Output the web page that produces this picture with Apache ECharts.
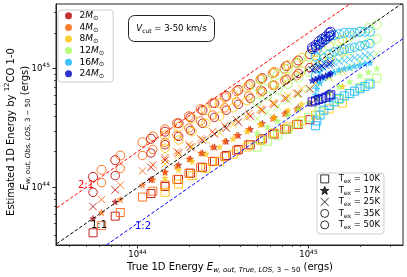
<!DOCTYPE html>
<html>
<head>
<meta charset="utf-8">
<script src="https://cdn.jsdelivr.net/npm/echarts@6.0.0/dist/echarts.min.js"></script>
<style>
html,body{margin:0;padding:0;background:#ffffff;}
#chart{width:407px;height:277px;}
</style>
</head>
<body>
<div id="chart"></div>
<script>
// ---------------- data ----------------
const massLabels = ['2', '4', '8', '12', '16', '24'];
const texLabels = ['10K', '17K', '25K', '35K', '50K'];
const xTickValues = [1e44, 1e45];
const yTickValues = [1e44, 1e45];
const xMinorTicks = [4e43, 5e43, 6e43, 7e43, 8e43, 9e43, 2e44, 3e44, 4e44, 5e44, 6e44, 7e44, 8e44, 9e44, 2e45, 3e45];
const yMinorTicks = [4e43, 5e43, 6e43, 7e43, 8e43, 9e43, 2e44, 3e44, 4e44, 5e44, 6e44, 7e44, 8e44, 9e44, 2e45, 3e45];
const refX = [1e43, 1e46];
const ref1to1 = [1e43, 1e46];
const ref2to1 = [2e43, 2e46];
const ref1to2 = [5e42, 5e45];

// 2 Msun
const x2M = [5.50e43, 7.41e43, 1.20e44, 1.45e44, 1.74e44, 2.04e44, 2.40e44, 2.82e44, 3.31e44, 3.89e44, 4.57e44, 5.37e44, 6.31e44, 7.41e44, 8.71e44, 1.02e45];
const y2M_10K = [4.17e43, 5.75e43, 8.91e43, 1.02e44, 1.17e44, 1.32e44, 1.48e44, 1.66e44, 1.86e44, 2.09e44, 2.29e44, 2.57e44, 2.82e44, 3.09e44, 3.39e44, 3.72e44];
const y2M_17K = [5.50e43, 7.59e43, 1.17e44, 1.35e44, 1.55e44, 1.74e44, 1.95e44, 2.19e44, 2.45e44, 2.75e44, 3.09e44, 3.47e44, 3.89e44, 4.27e44, 4.68e44, 5.13e44];
const y2M_25K = [6.92e43, 9.55e43, 1.48e44, 1.70e44, 1.95e44, 2.19e44, 2.51e44, 2.82e44, 3.16e44, 3.55e44, 3.98e44, 4.47e44, 5.01e44, 5.62e44, 6.17e44, 6.76e44];
const y2M_35K = [9.12e43, 1.26e44, 1.95e44, 2.29e44, 2.69e44, 3.02e44, 3.47e44, 3.89e44, 4.47e44, 5.01e44, 5.62e44, 6.46e44, 7.24e44, 8.13e44, 9.12e44, 1.02e45];
const y2M_50K = [1.23e44, 1.70e44, 2.57e44, 2.95e44, 3.47e44, 3.89e44, 4.47e44, 5.13e44, 5.89e44, 6.61e44, 7.41e44, 8.32e44, 9.33e44, 1.05e45, 1.17e45, 1.32e45];

// 4 Msun
const x4M = [6.17e43, 7.94e43, 1.07e44, 1.23e44, 1.45e44, 1.70e44, 2.00e44, 2.34e44, 2.75e44, 3.24e44, 3.80e44, 4.47e44, 5.25e44, 6.17e44, 7.24e44, 8.51e44];
const y4M_10K = [4.79e43, 6.17e43, 8.32e43, 9.33e43, 1.05e44, 1.17e44, 1.32e44, 1.48e44, 1.66e44, 1.82e44, 2.04e44, 2.29e44, 2.51e44, 2.82e44, 3.09e44, 3.39e44];
const y4M_17K = [6.17e43, 7.94e43, 1.05e44, 1.17e44, 1.35e44, 1.51e44, 1.74e44, 1.95e44, 2.19e44, 2.45e44, 2.75e44, 3.09e44, 3.39e44, 3.80e44, 4.17e44, 4.57e44];
const y4M_25K = [7.94e43, 1.05e44, 1.38e44, 1.55e44, 1.78e44, 2.00e44, 2.29e44, 2.57e44, 2.95e44, 3.31e44, 3.72e44, 4.17e44, 4.57e44, 5.13e44, 5.62e44, 6.17e44];
const y4M_35K = [1.10e44, 1.45e44, 1.86e44, 2.09e44, 2.40e44, 2.75e44, 3.16e44, 3.63e44, 4.07e44, 4.68e44, 5.25e44, 5.89e44, 6.61e44, 7.24e44, 7.94e44, 8.71e44];
const y4M_50K = [1.41e44, 1.86e44, 2.40e44, 2.69e44, 3.09e44, 3.47e44, 3.98e44, 4.57e44, 5.13e44, 5.75e44, 6.46e44, 7.24e44, 8.13e44, 9.12e44, 1.00e45, 1.12e45];

// 8 Msun
const x8M = [1.45e44, 1.74e44, 2.09e44, 2.51e44, 3.02e44, 3.63e44, 4.37e44, 5.25e44, 6.31e44, 7.59e44, 9.12e44, 1.10e45, 1.32e45, 1.58e45];
const y8M_10K = [9.12e43, 1.07e44, 1.26e44, 1.45e44, 1.66e44, 1.91e44, 2.19e44, 2.51e44, 2.88e44, 3.24e44, 3.63e44, 4.07e44, 4.57e44, 5.13e44];
const y8M_17K = [1.20e44, 1.41e44, 1.66e44, 1.91e44, 2.19e44, 2.57e44, 2.95e44, 3.39e44, 3.89e44, 4.47e44, 5.01e44, 5.62e44, 6.31e44, 7.08e44];
const y8M_25K = [1.58e44, 1.86e44, 2.19e44, 2.51e44, 2.88e44, 3.39e44, 3.89e44, 4.47e44, 5.13e44, 5.89e44, 6.76e44, 7.59e44, 8.51e44, 9.55e44];
const y8M_35K = [2.14e44, 2.51e44, 2.95e44, 3.47e44, 3.98e44, 4.68e44, 5.37e44, 6.31e44, 7.24e44, 8.32e44, 9.55e44, 1.10e45, 1.23e45, 1.38e45];
const y8M_50K = [2.75e44, 3.24e44, 3.80e44, 4.47e44, 5.13e44, 6.03e44, 6.92e44, 8.13e44, 9.33e44, 1.07e45, 1.23e45, 1.38e45, 1.55e45, 1.74e45];

// 12 Msun
const x12M = [5.01e44, 5.75e44, 6.61e44, 7.59e44, 8.71e44, 1.00e45, 1.15e45, 1.32e45, 1.51e45, 1.74e45, 2.00e45, 2.24e45, 2.51e45];
const y12M_10K = [2.19e44, 2.45e44, 2.75e44, 3.09e44, 3.47e44, 3.89e44, 4.37e44, 4.90e44, 5.50e44, 6.17e44, 6.92e44, 7.59e44, 8.32e44];
const y12M_17K = [2.88e44, 3.24e44, 3.63e44, 4.07e44, 4.57e44, 5.13e44, 5.62e44, 6.31e44, 7.08e44, 7.76e44, 8.71e44, 9.33e44, 1.00e45];
const y12M_25K = [3.80e44, 4.27e44, 4.79e44, 5.37e44, 6.03e44, 6.76e44, 7.59e44, 8.32e44, 9.33e44, 1.02e45, 1.15e45, 1.23e45, 1.32e45];
const y12M_35K = [5.25e44, 5.89e44, 6.61e44, 7.41e44, 8.32e44, 9.33e44, 1.02e45, 1.15e45, 1.26e45, 1.41e45, 1.55e45, 1.66e45, 1.78e45];
const y12M_50K = [7.08e44, 7.94e44, 8.91e44, 1.00e45, 1.12e45, 1.26e45, 1.38e45, 1.55e45, 1.70e45, 1.86e45, 2.04e45, 2.19e45, 2.34e45];

// 16 Msun
const x16M = [1.10e45, 1.12e45, 1.17e45, 1.23e45, 1.32e45, 1.41e45, 1.51e45, 1.62e45, 1.74e45, 1.86e45, 2.00e45, 2.14e45, 2.29e45];
const y16M_10K = [3.31e44, 3.63e44, 4.07e44, 4.47e44, 4.90e44, 5.25e44, 5.62e44, 5.89e44, 6.17e44, 6.46e44, 6.76e44, 7.08e44, 7.41e44];
const y16M_17K = [6.03e44, 6.76e44, 7.59e44, 8.32e44, 8.91e44, 9.33e44, 9.77e44, 1.00e45, 1.02e45, 1.05e45, 1.07e45, 1.10e45, 1.12e45];
const y16M_25K = [7.24e44, 8.13e44, 9.12e44, 1.00e45, 1.07e45, 1.12e45, 1.15e45, 1.17e45, 1.20e45, 1.23e45, 1.26e45, 1.29e45, 1.32e45];
const y16M_35K = [8.71e44, 1.00e45, 1.12e45, 1.23e45, 1.32e45, 1.38e45, 1.41e45, 1.45e45, 1.48e45, 1.51e45, 1.55e45, 1.58e45, 1.62e45];
const y16M_50K = [1.26e45, 1.45e45, 1.62e45, 1.74e45, 1.86e45, 1.91e45, 1.95e45, 2.00e45, 2.00e45, 2.00e45, 2.04e45, 2.04e45, 2.04e45];

// 24 Msun
const x24M = [1.05e45, 1.10e45, 1.15e45, 1.20e45, 1.26e45, 1.32e45, 1.35e45];
const y24M_10K = [5.25e44, 5.37e44, 5.50e44, 5.62e44, 5.75e44, 5.89e44, 6.03e44];
const y24M_17K = [7.94e44, 8.13e44, 8.32e44, 8.51e44, 8.71e44, 8.91e44, 9.12e44];
const y24M_25K = [9.77e44, 1.00e45, 1.02e45, 1.05e45, 1.07e45, 1.10e45, 1.12e45];
const y24M_35K = [1.45e45, 1.51e45, 1.58e45, 1.66e45, 1.74e45, 1.86e45, 1.91e45];
const y24M_50K = [1.51e45, 1.58e45, 1.70e45, 1.78e45, 1.86e45, 2.00e45, 2.04e45];

// ---------------- styles ----------------
const massColors = ['#b40000', '#ff5f00', '#ffc300', '#a2ff5a', '#10b4ff', '#0000c4'];
const SQUARE = 'path://M-5,-5L5,-5L5,5L-5,5Z';
const STAR = 'path://M0,-10L2.35,-3.24L9.51,-3.09L3.8,1.24L5.88,8.09L0,4L-5.88,8.09L-3.8,1.24L-9.51,-3.09L-2.35,-3.24Z';
const XMARK = 'path://M-5,-5L5,5M5,-5L-5,5';
const texSymbols = [SQUARE, STAR, XMARK, 'circle', 'circle'];
const texSizes = [8, 6.5, 7.5, 8.5, 9];
const texFilled = [false, true, false, false, false];
const texOpacity = [0.85, 0.7, 0.8, 0.85, 0.85];
const FONT = 'DejaVu Sans';

const massTable = [
  {x: x2M, ys: [y2M_10K, y2M_17K, y2M_25K, y2M_35K, y2M_50K]},
  {x: x4M, ys: [y4M_10K, y4M_17K, y4M_25K, y4M_35K, y4M_50K]},
  {x: x8M, ys: [y8M_10K, y8M_17K, y8M_25K, y8M_35K, y8M_50K]},
  {x: x12M, ys: [y12M_10K, y12M_17K, y12M_25K, y12M_35K, y12M_50K]},
  {x: x16M, ys: [y16M_10K, y16M_17K, y16M_25K, y16M_35K, y16M_50K]},
  {x: x24M, ys: [y24M_10K, y24M_17K, y24M_25K, y24M_35K, y24M_50K]}
];

const series = [];
massTable.forEach((m, mi) => {
  const c = massColors[mi];
  m.ys.forEach((ys, ti) => {
    series.push({
      type: 'scatter',
      name: 'data_' + massLabels[mi] + '_' + texLabels[ti],
      data: m.x.map((v, i) => [v, ys[i]]),
      symbol: texSymbols[ti],
      symbolSize: texSizes[ti],
      itemStyle: {
        color: texFilled[ti] ? c : 'rgba(0,0,0,0)',
        borderColor: c,
        borderWidth: texFilled[ti] ? 0.6 : 1,
        opacity: texOpacity[ti]
      },
      silent: true,
      z: 2
    });
  });
});

function refLine(ys, color) {
  return {
    type: 'line',
    data: refX.map((v, i) => [v, ys[i]]),
    symbol: 'none',
    lineStyle: {color: color, width: 1, type: [3.5, 2]},
    silent: true,
    z: 4
  };
}
series.push(refLine(ref1to1, '#000000'));
series.push(refLine(ref2to1, '#ff0000'));
series.push(refLine(ref1to2, '#0000ff'));

// legend dummy series
massLabels.forEach((m, mi) => {
  series.push({type: 'scatter', name: 'm' + m, data: [], itemStyle: {color: massColors[mi]}});
});
texLabels.forEach((t, ti) => {
  series.push({type: 'scatter', name: 't' + t, data: [], symbol: texSymbols[ti],
    itemStyle: {color: texFilled[ti] ? '#000' : 'rgba(0,0,0,0)', borderColor: '#000', borderWidth: 1}});
});

const tickRich = {
  b: {fontSize: 8.5, fontFamily: FONT, color: '#000', lineHeight: 12},
  s: {fontSize: 6, fontFamily: FONT, color: '#000', lineHeight: 5, verticalAlign: 'top'}
};
const tickFmt = v => '{b|10}{s|' + Math.round(Math.log10(v)) + '}';

const XMIN = 3.34e43, XMAX = 3.57e45, YMIN = 3.29e43, YMAX = 3.49e45;

function mainAxis(min, max, ticks, pos) {
  return {
    type: 'log', logBase: 10, min: min, max: max, position: pos,
    axisLine: {show: true, onZero: false, lineStyle: {color: '#222', width: 1}},
    axisTick: {show: true, customValues: ticks, length: 3.5, lineStyle: {color: '#222', width: 1}},
    axisLabel: {show: true, customValues: ticks, margin: pos === 'left' ? 6 : 4, formatter: tickFmt, rich: tickRich},
    splitLine: {show: false}
  };
}
function minorAxis(min, max, ticks, pos) {
  return {
    type: 'log', logBase: 10, min: min, max: max, position: pos, offset: 0,
    axisLine: {show: false},
    axisTick: {show: true, customValues: ticks, length: 2, lineStyle: {color: '#222', width: 0.8}},
    axisLabel: {show: false},
    splitLine: {show: false}
  };
}

const nameRich = {
  n: {fontSize: 10, fontFamily: FONT, color: '#000', lineHeight: 14},
  i: {fontSize: 10, fontFamily: FONT, fontStyle: 'italic', color: '#000', lineHeight: 14},
  sub: {fontSize: 7, fontFamily: FONT, fontStyle: 'italic', color: '#000', lineHeight: 8, verticalAlign: 'bottom'},
  subn: {fontSize: 7, fontFamily: FONT, color: '#000', lineHeight: 8, verticalAlign: 'bottom'},
  sup: {fontSize: 7, fontFamily: FONT, color: '#000', lineHeight: 8, verticalAlign: 'top'}
};

const option = {
  animation: false,
  backgroundColor: '#ffffff',
  grid: {left: 56, right: 4, top: 4, bottom: 32, show: true, borderColor: '#222', borderWidth: 1, backgroundColor: 'rgba(0,0,0,0)'},
  xAxis: [mainAxis(XMIN, XMAX, xTickValues, 'bottom'), minorAxis(XMIN, XMAX, xMinorTicks, 'bottom')],
  yAxis: [mainAxis(YMIN, YMAX, yTickValues, 'left'), minorAxis(YMIN, YMAX, yMinorTicks, 'left')],
  legend: [
    {
      data: massLabels.map(m => 'm' + m),
      orient: 'vertical', left: 58, top: 10,
      icon: 'circle', itemWidth: 12, itemHeight: 7, itemGap: 1.1,
      padding: [1.3, 9, 2.2, 7],
      backgroundColor: '#ffffff', borderColor: '#cccccc', borderWidth: 1, borderRadius: 3,
      selectedMode: false,
      formatter: name => '{n|' + name.slice(1) + '}{i|M}{s|⊙}',
      textStyle: {
        rich: {
          n: {fontSize: 9, fontFamily: FONT, color: '#000', lineHeight: 12},
          i: {fontSize: 9, fontFamily: FONT, fontStyle: 'italic', color: '#000', lineHeight: 12},
          s: {fontSize: 6.5, fontFamily: FONT, color: '#000', lineHeight: 7, verticalAlign: 'bottom'}
        }
      },
      z: 10
    },
    {
      data: texLabels.map((t, ti) => ({
        name: 't' + t,
        icon: texSymbols[ti],
        itemStyle: {color: texFilled[ti] ? '#000' : 'rgba(0,0,0,0)', borderColor: '#000', borderWidth: 1}
      })),
      orient: 'vertical', left: 317, top: 173,
      itemWidth: 18, itemHeight: 8, itemGap: 1,
      padding: [1.4, 4, 3, 3],
      backgroundColor: '#ffffff', borderColor: '#cccccc', borderWidth: 1, borderRadius: 3,
      selectedMode: false,
      formatter: name => '{T|T}{s|ex}{n| = ' + name.slice(1) + '}',
      textStyle: {
        rich: {
          T: {fontSize: 8.5, fontFamily: FONT, color: '#000', lineHeight: 12},
          n: {fontSize: 8.5, fontFamily: FONT, color: '#000', lineHeight: 12},
          s: {fontSize: 6, fontFamily: FONT, color: '#000', lineHeight: 7, verticalAlign: 'bottom'}
        }
      },
      z: 10
    }
  ],
  graphic: [
    {type: 'rect', shape: {x: 128.5, y: 15.5, width: 86, height: 26, r: 6}, style: {fill: '#ffffff', stroke: '#222', lineWidth: 1}, z: 20},
    {type: 'text', x: 171.5, y: 28.5, z: 21, style: {
      text: '{i|V}{s|cut}{n| = 3-50 km/s}', align: 'center', verticalAlign: 'middle',
      rich: {
        i: {fontSize: 8.5, fontFamily: FONT, fontStyle: 'italic', color: '#000', lineHeight: 12},
        n: {fontSize: 8.5, fontFamily: FONT, color: '#000', lineHeight: 12},
        s: {fontSize: 6, fontFamily: FONT, color: '#000', lineHeight: 7, verticalAlign: 'bottom'}
      }}},
    {type: 'text', x: 86, y: 185, z: 21, style: {text: '2:1', fill: '#ff0000', fontSize: 10, fontFamily: FONT, align: 'center', verticalAlign: 'middle'}},
    {type: 'text', x: 99, y: 225, z: 21, style: {text: '1:1', fill: '#000000', fontSize: 10, fontFamily: FONT, align: 'center', verticalAlign: 'middle'}},
    {type: 'text', x: 143, y: 226, z: 21, style: {text: '1:2', fill: '#0000ff', fontSize: 10, fontFamily: FONT, align: 'center', verticalAlign: 'middle'}},
    {type: 'text', x: 11, y: 132, rotation: Math.PI / 2, z: 21, style: {
      text: '{n|Estimated 1D Energy by }{sup|12}{n|CO 1-0}', align: 'center', verticalAlign: 'middle', rich: nameRich}},
    {type: 'text', x: 25, y: 128, rotation: Math.PI / 2, z: 21, style: {
      text: '{i|E}{sub|w, out, Obs, LOS, }{subn|3 − 50}{n| (ergs)}', align: 'center', verticalAlign: 'middle', rich: nameRich}},
    {type: 'text', x: 230, y: 267, z: 21, style: {
      text: '{n|True 1D Energy }{i|E}{sub|w, out, True, LOS, }{subn|3 − 50}{n| (ergs)}', align: 'center', verticalAlign: 'middle', rich: nameRich}}
  ],
  series: series
};

const chart = echarts.init(document.getElementById('chart'), null, {renderer: 'canvas'});
chart.setOption(option);
</script>
</body>
</html>
